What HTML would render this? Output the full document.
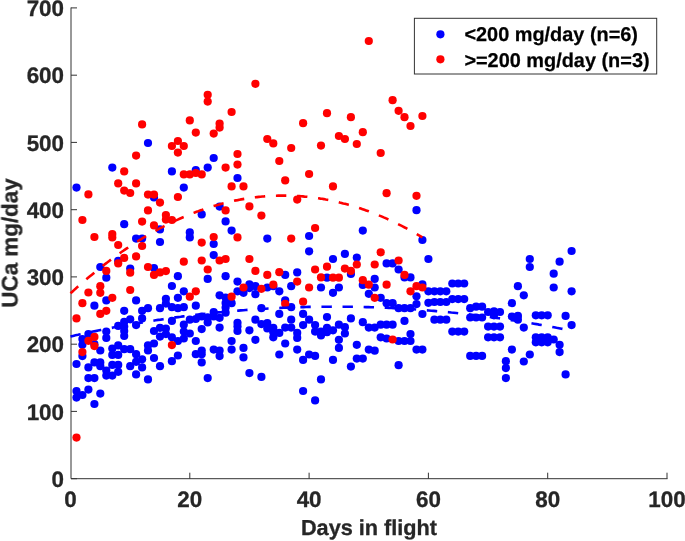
<!DOCTYPE html>
<html><head><meta charset="utf-8"><title>UCa</title>
<style>
html,body{margin:0;padding:0;background:#fff;}
body{width:685px;height:541px;overflow:hidden;position:relative;}
svg{position:absolute;left:0;top:0;}
svg{text-rendering:geometricPrecision;-webkit-font-smoothing:antialiased;}
text{font-family:"Liberation Sans",Arial,Helvetica,sans-serif;font-weight:bold;fill:#262626;stroke:#262626;stroke-width:0.3px;}
.t{font-size:22.4px;}
.l{font-size:19.9px;fill:#000;stroke:#000;stroke-width:0.25px;}
.a{font-size:22.4px;}
</style></head><body>
<svg width="685" height="541" viewBox="0 0 685 541">
<rect width="685" height="541" fill="#fff"/>
<g stroke="#333" stroke-width="1" fill="none">
<path d="M71,7.5 V478.7 H667.5"/>
<path d="M71,478.7 h6 M71,411.4 h6 M71,344.2 h6 M71,276.9 h6 M71,209.7 h6 M71,142.4 h6 M71,75.2 h6 M71,7.9 h6 M189.8,478.7 v-6 M309.1,478.7 v-6 M428.4,478.7 v-6 M547.7,478.7 v-6 M667.0,478.7 v-6 "/>
</g>
<g fill="#0000ff"><circle cx="76.5" cy="187.6" r="4.1"/><circle cx="76.5" cy="364.0" r="4.1"/><circle cx="76.5" cy="391.0" r="4.1"/><circle cx="76.5" cy="397.6" r="4.1"/><circle cx="82.4" cy="339.1" r="4.1"/><circle cx="82.4" cy="344.8" r="4.1"/><circle cx="82.4" cy="356.1" r="4.1"/><circle cx="82.4" cy="395.0" r="4.1"/><circle cx="88.4" cy="334.1" r="4.1"/><circle cx="88.4" cy="367.4" r="4.1"/><circle cx="88.4" cy="378.1" r="4.1"/><circle cx="88.4" cy="389.6" r="4.1"/><circle cx="94.4" cy="305.7" r="4.1"/><circle cx="94.4" cy="344.2" r="4.1"/><circle cx="94.4" cy="362.4" r="4.1"/><circle cx="94.4" cy="378.1" r="4.1"/><circle cx="94.4" cy="404.0" r="4.1"/><circle cx="100.3" cy="267.0" r="4.1"/><circle cx="100.3" cy="350.5" r="4.1"/><circle cx="100.3" cy="362.4" r="4.1"/><circle cx="100.3" cy="366.2" r="4.1"/><circle cx="100.3" cy="393.6" r="4.1"/><circle cx="106.3" cy="277.7" r="4.1"/><circle cx="106.3" cy="300.4" r="4.1"/><circle cx="106.3" cy="331.6" r="4.1"/><circle cx="106.3" cy="337.9" r="4.1"/><circle cx="106.3" cy="370.6" r="4.1"/><circle cx="106.3" cy="375.6" r="4.1"/><circle cx="112.3" cy="167.6" r="4.1"/><circle cx="112.3" cy="348.6" r="4.1"/><circle cx="112.3" cy="354.9" r="4.1"/><circle cx="112.3" cy="364.9" r="4.1"/><circle cx="112.3" cy="375.6" r="4.1"/><circle cx="118.2" cy="260.8" r="4.1"/><circle cx="118.2" cy="325.9" r="4.1"/><circle cx="118.2" cy="345.4" r="4.1"/><circle cx="118.2" cy="354.9" r="4.1"/><circle cx="118.2" cy="364.9" r="4.1"/><circle cx="118.2" cy="371.8" r="4.1"/><circle cx="124.2" cy="224.2" r="4.1"/><circle cx="124.2" cy="310.8" r="4.1"/><circle cx="124.2" cy="321.8" r="4.1"/><circle cx="124.2" cy="326.6" r="4.1"/><circle cx="124.2" cy="331.0" r="4.1"/><circle cx="124.2" cy="336.0" r="4.1"/><circle cx="124.2" cy="349.2" r="4.1"/><circle cx="130.2" cy="268.6" r="4.1"/><circle cx="130.2" cy="319.3" r="4.1"/><circle cx="130.2" cy="349.2" r="4.1"/><circle cx="130.2" cy="366.2" r="4.1"/><circle cx="136.1" cy="238.6" r="4.1"/><circle cx="136.1" cy="300.4" r="4.1"/><circle cx="136.1" cy="325.1" r="4.1"/><circle cx="136.1" cy="354.2" r="4.1"/><circle cx="136.1" cy="361.8" r="4.1"/><circle cx="136.1" cy="374.4" r="4.1"/><circle cx="142.1" cy="238.6" r="4.1"/><circle cx="142.1" cy="310.8" r="4.1"/><circle cx="142.1" cy="318.4" r="4.1"/><circle cx="142.1" cy="359.3" r="4.1"/><circle cx="142.1" cy="367.4" r="4.1"/><circle cx="148.0" cy="143.0" r="4.1"/><circle cx="148.0" cy="308.2" r="4.1"/><circle cx="148.0" cy="345.4" r="4.1"/><circle cx="148.0" cy="350.5" r="4.1"/><circle cx="148.0" cy="379.4" r="4.1"/><circle cx="154.0" cy="197.4" r="4.1"/><circle cx="154.0" cy="268.0" r="4.1"/><circle cx="154.0" cy="331.0" r="4.1"/><circle cx="154.0" cy="343.5" r="4.1"/><circle cx="154.0" cy="358.0" r="4.1"/><circle cx="160.0" cy="229.4" r="4.1"/><circle cx="160.0" cy="242.0" r="4.1"/><circle cx="160.0" cy="308.2" r="4.1"/><circle cx="160.0" cy="327.8" r="4.1"/><circle cx="160.0" cy="336.6" r="4.1"/><circle cx="160.0" cy="366.2" r="4.1"/><circle cx="165.9" cy="298.8" r="4.1"/><circle cx="165.9" cy="303.6" r="4.1"/><circle cx="165.9" cy="328.5" r="4.1"/><circle cx="165.9" cy="334.1" r="4.1"/><circle cx="171.9" cy="171.4" r="4.1"/><circle cx="171.9" cy="286.0" r="4.1"/><circle cx="171.9" cy="307.2" r="4.1"/><circle cx="171.9" cy="320.9" r="4.1"/><circle cx="171.9" cy="337.3" r="4.1"/><circle cx="171.9" cy="361.2" r="4.1"/><circle cx="177.9" cy="276.2" r="4.1"/><circle cx="177.9" cy="297.8" r="4.1"/><circle cx="177.9" cy="308.2" r="4.1"/><circle cx="177.9" cy="341.0" r="4.1"/><circle cx="177.9" cy="355.5" r="4.1"/><circle cx="183.8" cy="187.6" r="4.1"/><circle cx="183.8" cy="291.3" r="4.1"/><circle cx="183.8" cy="307.2" r="4.1"/><circle cx="183.8" cy="324.7" r="4.1"/><circle cx="183.8" cy="331.6" r="4.1"/><circle cx="183.8" cy="338.5" r="4.1"/><circle cx="189.8" cy="232.4" r="4.1"/><circle cx="189.8" cy="237.4" r="4.1"/><circle cx="189.8" cy="319.7" r="4.1"/><circle cx="189.8" cy="333.5" r="4.1"/><circle cx="195.8" cy="170.0" r="4.1"/><circle cx="195.8" cy="305.7" r="4.1"/><circle cx="195.8" cy="319.0" r="4.1"/><circle cx="195.8" cy="341.0" r="4.1"/><circle cx="195.8" cy="354.2" r="4.1"/><circle cx="201.7" cy="214.4" r="4.1"/><circle cx="201.7" cy="316.5" r="4.1"/><circle cx="201.7" cy="329.1" r="4.1"/><circle cx="201.7" cy="350.5" r="4.1"/><circle cx="201.7" cy="354.2" r="4.1"/><circle cx="201.7" cy="362.4" r="4.1"/><circle cx="207.7" cy="167.6" r="4.1"/><circle cx="207.7" cy="278.9" r="4.1"/><circle cx="207.7" cy="378.1" r="4.1"/><circle cx="213.7" cy="158.0" r="4.1"/><circle cx="213.7" cy="244.0" r="4.1"/><circle cx="213.7" cy="255.1" r="4.1"/><circle cx="213.7" cy="312.0" r="4.1"/><circle cx="213.7" cy="316.5" r="4.1"/><circle cx="213.7" cy="349.6" r="4.1"/><circle cx="219.6" cy="206.6" r="4.1"/><circle cx="219.6" cy="295.3" r="4.1"/><circle cx="219.6" cy="317.8" r="4.1"/><circle cx="219.6" cy="327.6" r="4.1"/><circle cx="219.6" cy="350.5" r="4.1"/><circle cx="219.6" cy="356.1" r="4.1"/><circle cx="225.6" cy="221.4" r="4.1"/><circle cx="225.6" cy="276.2" r="4.1"/><circle cx="225.6" cy="307.6" r="4.1"/><circle cx="231.6" cy="230.6" r="4.1"/><circle cx="231.6" cy="303.2" r="4.1"/><circle cx="231.6" cy="341.0" r="4.1"/><circle cx="231.6" cy="349.6" r="4.1"/><circle cx="237.5" cy="178.0" r="4.1"/><circle cx="237.5" cy="281.6" r="4.1"/><circle cx="237.5" cy="291.3" r="4.1"/><circle cx="237.5" cy="322.8" r="4.1"/><circle cx="237.5" cy="326.6" r="4.1"/><circle cx="237.5" cy="331.0" r="4.1"/><circle cx="243.5" cy="292.8" r="4.1"/><circle cx="243.5" cy="347.9" r="4.1"/><circle cx="243.5" cy="357.4" r="4.1"/><circle cx="249.4" cy="284.4" r="4.1"/><circle cx="249.4" cy="288.1" r="4.1"/><circle cx="249.4" cy="330.3" r="4.1"/><circle cx="249.4" cy="373.1" r="4.1"/><circle cx="255.4" cy="286.2" r="4.1"/><circle cx="255.4" cy="294.2" r="4.1"/><circle cx="255.4" cy="319.7" r="4.1"/><circle cx="255.4" cy="339.8" r="4.1"/><circle cx="261.4" cy="308.2" r="4.1"/><circle cx="261.4" cy="324.1" r="4.1"/><circle cx="261.4" cy="376.9" r="4.1"/><circle cx="267.3" cy="238.6" r="4.1"/><circle cx="267.3" cy="287.5" r="4.1"/><circle cx="267.3" cy="323.1" r="4.1"/><circle cx="267.3" cy="328.5" r="4.1"/><circle cx="273.3" cy="286.2" r="4.1"/><circle cx="273.3" cy="327.8" r="4.1"/><circle cx="273.3" cy="332.2" r="4.1"/><circle cx="273.3" cy="337.3" r="4.1"/><circle cx="279.3" cy="291.3" r="4.1"/><circle cx="279.3" cy="313.9" r="4.1"/><circle cx="279.3" cy="332.9" r="4.1"/><circle cx="279.3" cy="354.5" r="4.1"/><circle cx="285.2" cy="274.9" r="4.1"/><circle cx="285.2" cy="300.3" r="4.1"/><circle cx="285.2" cy="327.6" r="4.1"/><circle cx="285.2" cy="343.5" r="4.1"/><circle cx="291.2" cy="286.2" r="4.1"/><circle cx="291.2" cy="307.2" r="4.1"/><circle cx="291.2" cy="319.7" r="4.1"/><circle cx="291.2" cy="327.6" r="4.1"/><circle cx="297.2" cy="272.4" r="4.1"/><circle cx="297.2" cy="332.9" r="4.1"/><circle cx="297.2" cy="337.9" r="4.1"/><circle cx="297.2" cy="349.6" r="4.1"/><circle cx="303.1" cy="313.9" r="4.1"/><circle cx="303.1" cy="325.1" r="4.1"/><circle cx="303.1" cy="359.9" r="4.1"/><circle cx="303.1" cy="391.0" r="4.1"/><circle cx="309.1" cy="236.0" r="4.1"/><circle cx="309.1" cy="251.3" r="4.1"/><circle cx="309.1" cy="319.7" r="4.1"/><circle cx="309.1" cy="354.5" r="4.1"/><circle cx="315.1" cy="325.1" r="4.1"/><circle cx="315.1" cy="331.6" r="4.1"/><circle cx="315.1" cy="355.9" r="4.1"/><circle cx="315.1" cy="400.4" r="4.1"/><circle cx="321.0" cy="287.5" r="4.1"/><circle cx="321.0" cy="331.6" r="4.1"/><circle cx="321.0" cy="335.4" r="4.1"/><circle cx="321.0" cy="379.4" r="4.1"/><circle cx="327.0" cy="277.7" r="4.1"/><circle cx="327.0" cy="317.1" r="4.1"/><circle cx="327.0" cy="327.8" r="4.1"/><circle cx="327.0" cy="332.2" r="4.1"/><circle cx="333.0" cy="259.0" r="4.1"/><circle cx="333.0" cy="292.8" r="4.1"/><circle cx="333.0" cy="330.3" r="4.1"/><circle cx="333.0" cy="359.9" r="4.1"/><circle cx="338.9" cy="287.5" r="4.1"/><circle cx="338.9" cy="324.7" r="4.1"/><circle cx="338.9" cy="339.8" r="4.1"/><circle cx="338.9" cy="347.9" r="4.1"/><circle cx="344.9" cy="253.8" r="4.1"/><circle cx="344.9" cy="327.2" r="4.1"/><circle cx="344.9" cy="333.5" r="4.1"/><circle cx="350.9" cy="273.9" r="4.1"/><circle cx="350.9" cy="318.4" r="4.1"/><circle cx="350.9" cy="366.6" r="4.1"/><circle cx="356.8" cy="257.6" r="4.1"/><circle cx="356.8" cy="344.8" r="4.1"/><circle cx="356.8" cy="358.6" r="4.1"/><circle cx="362.8" cy="230.6" r="4.1"/><circle cx="362.8" cy="285.0" r="4.1"/><circle cx="362.8" cy="322.2" r="4.1"/><circle cx="362.8" cy="358.6" r="4.1"/><circle cx="368.8" cy="293.8" r="4.1"/><circle cx="368.8" cy="327.6" r="4.1"/><circle cx="368.8" cy="349.6" r="4.1"/><circle cx="374.7" cy="278.9" r="4.1"/><circle cx="374.7" cy="287.5" r="4.1"/><circle cx="374.7" cy="327.6" r="4.1"/><circle cx="374.7" cy="350.7" r="4.1"/><circle cx="380.7" cy="297.8" r="4.1"/><circle cx="380.7" cy="324.7" r="4.1"/><circle cx="380.7" cy="337.3" r="4.1"/><circle cx="386.6" cy="263.4" r="4.1"/><circle cx="386.6" cy="303.2" r="4.1"/><circle cx="386.6" cy="324.7" r="4.1"/><circle cx="386.6" cy="338.5" r="4.1"/><circle cx="392.6" cy="263.4" r="4.1"/><circle cx="392.6" cy="303.2" r="4.1"/><circle cx="392.6" cy="324.7" r="4.1"/><circle cx="398.6" cy="269.5" r="4.1"/><circle cx="398.6" cy="308.2" r="4.1"/><circle cx="398.6" cy="341.0" r="4.1"/><circle cx="398.6" cy="365.2" r="4.1"/><circle cx="404.5" cy="277.4" r="4.1"/><circle cx="404.5" cy="308.2" r="4.1"/><circle cx="404.5" cy="320.9" r="4.1"/><circle cx="404.5" cy="341.0" r="4.1"/><circle cx="410.5" cy="277.4" r="4.1"/><circle cx="410.5" cy="308.2" r="4.1"/><circle cx="410.5" cy="334.1" r="4.1"/><circle cx="410.5" cy="341.0" r="4.1"/><circle cx="416.5" cy="210.2" r="4.1"/><circle cx="416.5" cy="296.3" r="4.1"/><circle cx="416.5" cy="304.1" r="4.1"/><circle cx="416.5" cy="349.6" r="4.1"/><circle cx="422.4" cy="240.0" r="4.1"/><circle cx="422.4" cy="284.4" r="4.1"/><circle cx="422.4" cy="314.0" r="4.1"/><circle cx="422.4" cy="349.6" r="4.1"/><circle cx="428.4" cy="259.0" r="4.1"/><circle cx="428.4" cy="291.3" r="4.1"/><circle cx="428.4" cy="302.8" r="4.1"/><circle cx="434.4" cy="291.3" r="4.1"/><circle cx="434.4" cy="302.0" r="4.1"/><circle cx="434.4" cy="319.7" r="4.1"/><circle cx="440.3" cy="291.3" r="4.1"/><circle cx="440.3" cy="302.0" r="4.1"/><circle cx="440.3" cy="319.7" r="4.1"/><circle cx="446.3" cy="291.3" r="4.1"/><circle cx="446.3" cy="302.0" r="4.1"/><circle cx="446.3" cy="319.7" r="4.1"/><circle cx="452.3" cy="283.5" r="4.1"/><circle cx="452.3" cy="299.1" r="4.1"/><circle cx="452.3" cy="331.6" r="4.1"/><circle cx="458.2" cy="283.5" r="4.1"/><circle cx="458.2" cy="299.1" r="4.1"/><circle cx="458.2" cy="331.6" r="4.1"/><circle cx="464.2" cy="283.5" r="4.1"/><circle cx="464.2" cy="299.1" r="4.1"/><circle cx="464.2" cy="331.6" r="4.1"/><circle cx="470.2" cy="308.2" r="4.1"/><circle cx="470.2" cy="317.5" r="4.1"/><circle cx="470.2" cy="355.9" r="4.1"/><circle cx="476.1" cy="306.7" r="4.1"/><circle cx="476.1" cy="317.5" r="4.1"/><circle cx="476.1" cy="355.9" r="4.1"/><circle cx="482.1" cy="306.7" r="4.1"/><circle cx="482.1" cy="317.5" r="4.1"/><circle cx="482.1" cy="355.9" r="4.1"/><circle cx="488.1" cy="312.0" r="4.1"/><circle cx="488.1" cy="326.6" r="4.1"/><circle cx="488.1" cy="337.3" r="4.1"/><circle cx="494.0" cy="311.4" r="4.1"/><circle cx="494.0" cy="315.3" r="4.1"/><circle cx="494.0" cy="326.6" r="4.1"/><circle cx="494.0" cy="337.3" r="4.1"/><circle cx="500.0" cy="312.0" r="4.1"/><circle cx="500.0" cy="326.6" r="4.1"/><circle cx="500.0" cy="337.3" r="4.1"/><circle cx="505.9" cy="361.2" r="4.1"/><circle cx="505.9" cy="368.1" r="4.1"/><circle cx="505.9" cy="378.1" r="4.1"/><circle cx="511.9" cy="303.2" r="4.1"/><circle cx="511.9" cy="316.5" r="4.1"/><circle cx="511.9" cy="349.6" r="4.1"/><circle cx="517.9" cy="286.2" r="4.1"/><circle cx="517.9" cy="315.9" r="4.1"/><circle cx="517.9" cy="319.7" r="4.1"/><circle cx="523.8" cy="295.3" r="4.1"/><circle cx="523.8" cy="327.6" r="4.1"/><circle cx="523.8" cy="361.5" r="4.1"/><circle cx="529.8" cy="259.0" r="4.1"/><circle cx="529.8" cy="267.0" r="4.1"/><circle cx="529.8" cy="354.5" r="4.1"/><circle cx="535.8" cy="315.3" r="4.1"/><circle cx="535.8" cy="337.3" r="4.1"/><circle cx="535.8" cy="342.3" r="4.1"/><circle cx="541.7" cy="315.3" r="4.1"/><circle cx="541.7" cy="337.3" r="4.1"/><circle cx="541.7" cy="342.3" r="4.1"/><circle cx="547.7" cy="315.3" r="4.1"/><circle cx="547.7" cy="337.3" r="4.1"/><circle cx="547.7" cy="342.3" r="4.1"/><circle cx="553.7" cy="273.7" r="4.1"/><circle cx="553.7" cy="287.5" r="4.1"/><circle cx="553.7" cy="339.5" r="4.1"/><circle cx="559.6" cy="261.7" r="4.1"/><circle cx="559.6" cy="344.8" r="4.1"/><circle cx="559.6" cy="352.1" r="4.1"/><circle cx="565.6" cy="315.9" r="4.1"/><circle cx="565.6" cy="374.4" r="4.1"/><circle cx="571.6" cy="251.0" r="4.1"/><circle cx="571.6" cy="291.3" r="4.1"/><circle cx="571.6" cy="325.1" r="4.1"/><circle cx="207.7" cy="317.3" r="4.1"/><circle cx="207.7" cy="322.4" r="4.1"/><circle cx="225.6" cy="297.5" r="4.1"/><circle cx="225.6" cy="303.0" r="4.1"/><circle cx="225.6" cy="312.7" r="4.1"/></g>
<g fill="#ff0000"><circle cx="76.5" cy="318.4" r="4.1"/><circle cx="76.5" cy="437.6" r="4.1"/><circle cx="82.4" cy="220.0" r="4.1"/><circle cx="82.4" cy="303.2" r="4.1"/><circle cx="82.4" cy="352.1" r="4.1"/><circle cx="88.4" cy="194.4" r="4.1"/><circle cx="88.4" cy="292.5" r="4.1"/><circle cx="88.4" cy="340.8" r="4.1"/><circle cx="94.4" cy="237.0" r="4.1"/><circle cx="94.4" cy="336.9" r="4.1"/><circle cx="94.4" cy="346.1" r="4.1"/><circle cx="100.3" cy="286.2" r="4.1"/><circle cx="100.3" cy="292.8" r="4.1"/><circle cx="100.3" cy="313.9" r="4.1"/><circle cx="106.3" cy="270.9" r="4.1"/><circle cx="106.3" cy="310.8" r="4.1"/><circle cx="112.3" cy="234.0" r="4.1"/><circle cx="112.3" cy="237.4" r="4.1"/><circle cx="112.3" cy="297.8" r="4.1"/><circle cx="118.2" cy="183.4" r="4.1"/><circle cx="118.2" cy="245.0" r="4.1"/><circle cx="118.2" cy="263.4" r="4.1"/><circle cx="124.2" cy="171.4" r="4.1"/><circle cx="124.2" cy="190.6" r="4.1"/><circle cx="124.2" cy="257.9" r="4.1"/><circle cx="130.2" cy="193.0" r="4.1"/><circle cx="130.2" cy="272.7" r="4.1"/><circle cx="130.2" cy="290.0" r="4.1"/><circle cx="136.1" cy="155.6" r="4.1"/><circle cx="136.1" cy="183.4" r="4.1"/><circle cx="136.1" cy="256.4" r="4.1"/><circle cx="142.1" cy="124.4" r="4.1"/><circle cx="142.1" cy="221.6" r="4.1"/><circle cx="142.1" cy="246.0" r="4.1"/><circle cx="148.0" cy="194.6" r="4.1"/><circle cx="148.0" cy="210.4" r="4.1"/><circle cx="148.0" cy="267.0" r="4.1"/><circle cx="154.0" cy="194.6" r="4.1"/><circle cx="154.0" cy="225.4" r="4.1"/><circle cx="154.0" cy="274.9" r="4.1"/><circle cx="160.0" cy="202.6" r="4.1"/><circle cx="160.0" cy="272.4" r="4.1"/><circle cx="165.9" cy="215.0" r="4.1"/><circle cx="165.9" cy="219.6" r="4.1"/><circle cx="165.9" cy="271.1" r="4.1"/><circle cx="171.9" cy="146.0" r="4.1"/><circle cx="171.9" cy="220.0" r="4.1"/><circle cx="171.9" cy="345.1" r="4.1"/><circle cx="177.9" cy="141.0" r="4.1"/><circle cx="177.9" cy="152.6" r="4.1"/><circle cx="177.9" cy="197.0" r="4.1"/><circle cx="183.8" cy="146.0" r="4.1"/><circle cx="183.8" cy="174.4" r="4.1"/><circle cx="183.8" cy="261.7" r="4.1"/><circle cx="189.8" cy="120.4" r="4.1"/><circle cx="189.8" cy="174.4" r="4.1"/><circle cx="189.8" cy="296.7" r="4.1"/><circle cx="195.8" cy="132.6" r="4.1"/><circle cx="195.8" cy="173.0" r="4.1"/><circle cx="195.8" cy="291.3" r="4.1"/><circle cx="201.7" cy="174.4" r="4.1"/><circle cx="201.7" cy="242.6" r="4.1"/><circle cx="201.7" cy="260.5" r="4.1"/><circle cx="207.7" cy="94.8" r="4.1"/><circle cx="207.7" cy="101.6" r="4.1"/><circle cx="207.7" cy="269.5" r="4.1"/><circle cx="213.7" cy="133.6" r="4.1"/><circle cx="213.7" cy="237.0" r="4.1"/><circle cx="219.6" cy="123.6" r="4.1"/><circle cx="219.6" cy="127.6" r="4.1"/><circle cx="219.6" cy="260.5" r="4.1"/><circle cx="225.6" cy="167.6" r="4.1"/><circle cx="225.6" cy="210.4" r="4.1"/><circle cx="225.6" cy="259.0" r="4.1"/><circle cx="231.6" cy="112.0" r="4.1"/><circle cx="231.6" cy="186.4" r="4.1"/><circle cx="231.6" cy="296.7" r="4.1"/><circle cx="237.5" cy="154.0" r="4.1"/><circle cx="237.5" cy="164.6" r="4.1"/><circle cx="237.5" cy="237.4" r="4.1"/><circle cx="243.5" cy="186.4" r="4.1"/><circle cx="243.5" cy="287.5" r="4.1"/><circle cx="249.4" cy="206.4" r="4.1"/><circle cx="249.4" cy="259.0" r="4.1"/><circle cx="255.4" cy="83.8" r="4.1"/><circle cx="255.4" cy="270.9" r="4.1"/><circle cx="261.4" cy="215.6" r="4.1"/><circle cx="261.4" cy="288.8" r="4.1"/><circle cx="267.3" cy="139.0" r="4.1"/><circle cx="267.3" cy="274.9" r="4.1"/><circle cx="273.3" cy="143.4" r="4.1"/><circle cx="273.3" cy="284.7" r="4.1"/><circle cx="279.3" cy="161.0" r="4.1"/><circle cx="279.3" cy="272.2" r="4.1"/><circle cx="285.2" cy="180.4" r="4.1"/><circle cx="285.2" cy="303.8" r="4.1"/><circle cx="291.2" cy="148.0" r="4.1"/><circle cx="291.2" cy="238.6" r="4.1"/><circle cx="297.2" cy="199.6" r="4.1"/><circle cx="297.2" cy="281.6" r="4.1"/><circle cx="303.1" cy="123.2" r="4.1"/><circle cx="303.1" cy="301.7" r="4.1"/><circle cx="309.1" cy="174.0" r="4.1"/><circle cx="309.1" cy="287.5" r="4.1"/><circle cx="315.1" cy="228.0" r="4.1"/><circle cx="315.1" cy="269.5" r="4.1"/><circle cx="321.0" cy="145.6" r="4.1"/><circle cx="321.0" cy="277.4" r="4.1"/><circle cx="327.0" cy="113.2" r="4.1"/><circle cx="327.0" cy="266.7" r="4.1"/><circle cx="333.0" cy="186.4" r="4.1"/><circle cx="333.0" cy="277.7" r="4.1"/><circle cx="338.9" cy="136.0" r="4.1"/><circle cx="338.9" cy="277.7" r="4.1"/><circle cx="344.9" cy="139.0" r="4.1"/><circle cx="344.9" cy="268.6" r="4.1"/><circle cx="350.9" cy="117.2" r="4.1"/><circle cx="350.9" cy="270.9" r="4.1"/><circle cx="356.8" cy="144.0" r="4.1"/><circle cx="356.8" cy="264.5" r="4.1"/><circle cx="362.8" cy="132.2" r="4.1"/><circle cx="362.8" cy="280.2" r="4.1"/><circle cx="368.8" cy="41.0" r="4.1"/><circle cx="368.8" cy="284.7" r="4.1"/><circle cx="374.7" cy="264.5" r="4.1"/><circle cx="374.7" cy="297.8" r="4.1"/><circle cx="380.7" cy="153.0" r="4.1"/><circle cx="380.7" cy="252.3" r="4.1"/><circle cx="386.6" cy="193.2" r="4.1"/><circle cx="386.6" cy="284.7" r="4.1"/><circle cx="392.6" cy="100.2" r="4.1"/><circle cx="392.6" cy="339.5" r="4.1"/><circle cx="398.6" cy="110.8" r="4.1"/><circle cx="398.6" cy="260.5" r="4.1"/><circle cx="404.5" cy="117.2" r="4.1"/><circle cx="404.5" cy="274.9" r="4.1"/><circle cx="410.5" cy="126.0" r="4.1"/><circle cx="410.5" cy="291.3" r="4.1"/><circle cx="416.5" cy="195.8" r="4.1"/><circle cx="416.5" cy="286.2" r="4.1"/><circle cx="422.4" cy="116.0" r="4.1"/><circle cx="422.4" cy="287.5" r="4.1"/></g>
<path d="M70.5,336.5 L73.0,335.9 L75.5,335.3 L78.0,334.8 L80.5,334.2 L83.0,333.7 L85.5,333.2 L88.0,332.6 L90.5,332.1 L93.0,331.6 L95.6,331.1 L98.1,330.6 L100.6,330.1 L103.1,329.6 L105.6,329.1 L108.1,328.6 L110.6,328.1 L113.1,327.6 L115.6,327.1 L118.1,326.7 L120.6,326.2 L123.1,325.8 L125.6,325.3 L128.1,324.9 L130.6,324.4 L133.1,324.0 L135.6,323.6 L138.1,323.1 L140.6,322.7 L143.2,322.3 L145.7,321.9 L148.2,321.5 L150.7,321.1 L153.2,320.7 L155.7,320.3 L158.2,319.9 L160.7,319.6 L163.2,319.2 L165.7,318.8 L168.2,318.5 L170.7,318.1 L173.2,317.8 L175.7,317.4 L178.2,317.1 L180.7,316.8 L183.2,316.4 L185.7,316.1 L188.2,315.8 L190.8,315.5 L193.3,315.2 L195.8,314.9 L198.3,314.6 L200.8,314.3 L203.3,314.0 L205.8,313.7 L208.3,313.5 L210.8,313.2 L213.3,312.9 L215.8,312.7 L218.3,312.4 L220.8,312.2 L223.3,311.9 L225.8,311.7 L228.3,311.5 L230.8,311.2 L233.3,311.0 L235.8,310.8 L238.4,310.6 L240.9,310.4 L243.4,310.2 L245.9,310.0 L248.4,309.8 L250.9,309.6 L253.4,309.5 L255.9,309.3 L258.4,309.1 L260.9,309.0 L263.4,308.8 L265.9,308.7 L268.4,308.5 L270.9,308.4 L273.4,308.2 L275.9,308.1 L278.4,308.0 L280.9,307.9 L283.5,307.8 L286.0,307.7 L288.5,307.6 L291.0,307.5 L293.5,307.4 L296.0,307.3 L298.5,307.2 L301.0,307.1 L303.5,307.1 L306.0,307.0 L308.5,306.9 L311.0,306.9 L313.5,306.8 L316.0,306.8 L318.5,306.8 L321.0,306.7 L323.5,306.7 L326.0,306.7 L328.5,306.7 L331.1,306.7 L333.6,306.6 L336.1,306.6 L338.6,306.7 L341.1,306.7 L343.6,306.7 L346.1,306.7 L348.6,306.7 L351.1,306.8 L353.6,306.8 L356.1,306.8 L358.6,306.9 L361.1,307.0 L363.6,307.0 L366.1,307.1 L368.6,307.1 L371.1,307.2 L373.6,307.3 L376.1,307.4 L378.7,307.5 L381.2,307.6 L383.7,307.7 L386.2,307.8 L388.7,307.9 L391.2,308.0 L393.7,308.1 L396.2,308.3 L398.7,308.4 L401.2,308.6 L403.7,308.7 L406.2,308.9 L408.7,309.0 L411.2,309.2 L413.7,309.3 L416.2,309.5 L418.7,309.7 L421.2,309.9 L423.7,310.1 L426.3,310.3 L428.8,310.5 L431.3,310.7 L433.8,310.9 L436.3,311.1 L438.8,311.3 L441.3,311.5 L443.8,311.8 L446.3,312.0 L448.8,312.2 L451.3,312.5 L453.8,312.7 L456.3,313.0 L458.8,313.3 L461.3,313.5 L463.8,313.8 L466.3,314.1 L468.8,314.4 L471.3,314.7 L473.9,315.0 L476.4,315.3 L478.9,315.6 L481.4,315.9 L483.9,316.2 L486.4,316.5 L488.9,316.9 L491.4,317.2 L493.9,317.5 L496.4,317.9 L498.9,318.2 L501.4,318.6 L503.9,318.9 L506.4,319.3 L508.9,319.7 L511.4,320.1 L513.9,320.4 L516.4,320.8 L518.9,321.2 L521.5,321.6 L524.0,322.0 L526.5,322.4 L529.0,322.8 L531.5,323.3 L534.0,323.7 L536.5,324.1 L539.0,324.6 L541.5,325.0 L544.0,325.4 L546.5,325.9 L549.0,326.4 L551.5,326.8 L554.0,327.3 L556.5,327.8 L559.0,328.2 L561.5,328.7 L564.0,329.2 L566.5,329.7 L569.1,330.2 L571.6,330.7" stroke="#0000ff" stroke-width="2.6" stroke-dasharray="10.4 10.7" fill="none"/>
<path d="M70.5,293.3 L72.3,291.7 L74.0,290.1 L75.8,288.5 L77.5,286.9 L79.3,285.4 L81.1,283.8 L82.8,282.3 L84.6,280.8 L86.3,279.3 L88.1,277.8 L89.9,276.3 L91.6,274.9 L93.4,273.4 L95.1,272.0 L96.9,270.5 L98.7,269.1 L100.4,267.7 L102.2,266.4 L103.9,265.0 L105.7,263.6 L107.5,262.3 L109.2,261.0 L111.0,259.6 L112.7,258.3 L114.5,257.1 L116.3,255.8 L118.0,254.5 L119.8,253.3 L121.5,252.0 L123.3,250.8 L125.0,249.6 L126.8,248.4 L128.6,247.2 L130.3,246.1 L132.1,244.9 L133.8,243.8 L135.6,242.6 L137.4,241.5 L139.1,240.4 L140.9,239.3 L142.6,238.2 L144.4,237.2 L146.2,236.1 L147.9,235.1 L149.7,234.1 L151.4,233.1 L153.2,232.1 L155.0,231.1 L156.7,230.1 L158.5,229.2 L160.2,228.2 L162.0,227.3 L163.8,226.4 L165.5,225.5 L167.3,224.6 L169.0,223.7 L170.8,222.9 L172.6,222.0 L174.3,221.2 L176.1,220.4 L177.8,219.6 L179.6,218.8 L181.4,218.0 L183.1,217.2 L184.9,216.5 L186.6,215.7 L188.4,215.0 L190.2,214.3 L191.9,213.6 L193.7,212.9 L195.4,212.2 L197.2,211.6 L199.0,210.9 L200.7,210.3 L202.5,209.7 L204.2,209.0 L206.0,208.5 L207.8,207.9 L209.5,207.3 L211.3,206.8 L213.0,206.2 L214.8,205.7 L216.6,205.2 L218.3,204.7 L220.1,204.2 L221.8,203.7 L223.6,203.3 L225.4,202.8 L227.1,202.4 L228.9,202.0 L230.6,201.5 L232.4,201.2 L234.1,200.8 L235.9,200.4 L237.7,200.1 L239.4,199.7 L241.2,199.4 L242.9,199.1 L244.7,198.8 L246.5,198.5 L248.2,198.2 L250.0,198.0 L251.7,197.7 L253.5,197.5 L255.3,197.3 L257.0,197.1 L258.8,196.9 L260.5,196.7 L262.3,196.5 L264.1,196.4 L265.8,196.2 L267.6,196.1 L269.3,196.0 L271.1,195.9 L272.9,195.8 L274.6,195.7 L276.4,195.7 L278.1,195.6 L279.9,195.6 L281.7,195.6 L283.4,195.6 L285.2,195.6 L286.9,195.6 L288.7,195.6 L290.5,195.7 L292.2,195.7 L294.0,195.8 L295.7,195.9 L297.5,196.0 L299.3,196.1 L301.0,196.3 L302.8,196.4 L304.5,196.6 L306.3,196.7 L308.1,196.9 L309.8,197.1 L311.6,197.3 L313.3,197.5 L315.1,197.8 L316.9,198.0 L318.6,198.3 L320.4,198.6 L322.1,198.8 L323.9,199.1 L325.7,199.5 L327.4,199.8 L329.2,200.1 L330.9,200.5 L332.7,200.9 L334.5,201.2 L336.2,201.6 L338.0,202.0 L339.7,202.5 L341.5,202.9 L343.2,203.4 L345.0,203.8 L346.8,204.3 L348.5,204.8 L350.3,205.3 L352.0,205.8 L353.8,206.3 L355.6,206.9 L357.3,207.4 L359.1,208.0 L360.8,208.6 L362.6,209.2 L364.4,209.8 L366.1,210.4 L367.9,211.0 L369.6,211.7 L371.4,212.4 L373.2,213.0 L374.9,213.7 L376.7,214.4 L378.4,215.1 L380.2,215.9 L382.0,216.6 L383.7,217.4 L385.5,218.1 L387.2,218.9 L389.0,219.7 L390.8,220.5 L392.5,221.4 L394.3,222.2 L396.0,223.1 L397.8,223.9 L399.6,224.8 L401.3,225.7 L403.1,226.6 L404.8,227.5 L406.6,228.4 L408.4,229.4 L410.1,230.3 L411.9,231.3 L413.6,232.3 L415.4,233.3 L417.2,234.3 L418.9,235.3 L420.7,236.4 L422.4,237.4" stroke="#ff0000" stroke-width="2.6" stroke-dasharray="10.4 10.73" fill="none"/>
<rect x="414.4" y="18.3" width="242.3" height="55.7" fill="#fff" stroke="#333" stroke-width="1"/>
<g style="opacity:0.999"><g class="t" text-anchor="end"><text x="64" y="486.9">0</text><text x="64" y="419.6">100</text><text x="64" y="352.4">200</text><text x="64" y="285.1">300</text><text x="64" y="217.9">400</text><text x="64" y="150.6">500</text><text x="64" y="83.4">600</text><text x="64" y="16.1">700</text></g>
<g class="t" text-anchor="middle"><text x="70.5" y="507">0</text><text x="189.8" y="507">20</text><text x="309.1" y="507">40</text><text x="428.4" y="507">60</text><text x="547.7" y="507">80</text><text x="667.0" y="507">100</text></g>
<text class="a" style="font-size:21.7px" x="369" y="535.4" text-anchor="middle">Days in flight</text>
<text class="a" transform="translate(17.5,243) rotate(-90)" text-anchor="middle">UCa mg/day</text>
<circle cx="440.4" cy="34.3" r="4.1" fill="#0000ff"/>
<circle cx="440.4" cy="59.3" r="4.1" fill="#ff0000"/>
<text class="l" x="464.4" y="41.4">&lt;200 mg/day (n=6)</text>
<text class="l" x="464.4" y="67">&gt;=200 mg/day (n=3)</text></g>
</svg>
</body></html>
